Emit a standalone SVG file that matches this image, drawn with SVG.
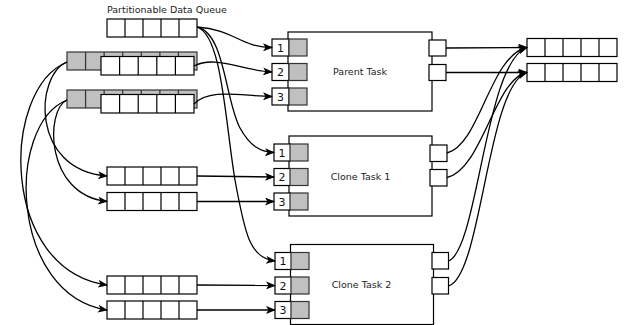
<svg xmlns="http://www.w3.org/2000/svg" xmlns:xlink="http://www.w3.org/1999/xlink" width="632" height="325" viewBox="0 0 632 325">
<style>
.s{fill:#fff;stroke:#000;stroke-width:1.2}
.g{fill:#c0c0c0;stroke:#333;stroke-width:1.2}
.d{fill:none;stroke:#000;stroke-width:1.2}
.dg{fill:none;stroke:#333;stroke-width:1.2}
.c{fill:none;stroke:#000;stroke-width:1.3}
.t{font-family:"DejaVu Sans",sans-serif;font-size:9.5px;fill:#222}
.n{font-family:"DejaVu Sans",sans-serif;font-size:11px;fill:#111;text-anchor:middle}
</style>
<defs>
<marker id="ah" markerWidth="10" markerHeight="8" refX="9" refY="4" orient="auto" markerUnits="userSpaceOnUse">
<path d="M0,0 L10,4 L0,8 L2.5,4 z" fill="#000"/>
</marker>
<g id="q">
<rect class="s" width="90" height="18"/>
<path class="d" d="M18,0v18M36,0v18M54,0v18M72,0v18"/>
</g>
<g id="qw">
<rect class="s" width="93" height="18.5"/>
<path class="d" d="M18.6,0v18.5M37.2,0v18.5M55.8,0v18.5M74.4,0v18.5"/>
</g>
<g id="qg">
<rect class="g" width="130" height="18"/>
<path class="dg" d="M18.57,0v18M37.14,0v18M55.71,0v18M74.29,0v18M92.86,0v18M111.43,0v18"/>
</g>
</defs>

<text class="t" x="107" y="12.5">Partitionable Data Queue</text>

<g id="queue-main"><use xlink:href="#q" x="107" y="19"/></g>
<g id="queue-p2"><use xlink:href="#qg" x="67" y="52"/><use xlink:href="#qw" x="101" y="56.5"/></g>
<g id="queue-p3"><use xlink:href="#qg" x="67" y="90"/><use xlink:href="#qw" x="101" y="94.5"/></g>
<g id="queue-c1a"><use xlink:href="#q" x="107" y="167"/></g>
<g id="queue-c1b"><use xlink:href="#q" x="107" y="192.5"/></g>
<g id="queue-c2a"><use xlink:href="#q" x="107" y="276"/></g>
<g id="queue-c2b"><use xlink:href="#q" x="107" y="301"/></g>
<g id="queue-out1"><use xlink:href="#q" x="527" y="38.5"/></g>
<g id="queue-out2"><use xlink:href="#q" x="527" y="63.5"/></g>

<g id="parent-task">
<rect class="s" x="288" y="32" width="144" height="79"/>
<text class="t" x="360" y="74.5" text-anchor="middle">Parent Task</text>
<rect class="s" x="272" y="39" width="17" height="17"/><rect class="g" x="289" y="39" width="18" height="17"/><text class="n" x="280.5" y="51.5">1</text>
<rect class="s" x="272" y="63.5" width="17" height="17"/><rect class="g" x="289" y="63.5" width="18" height="17"/><text class="n" x="280.5" y="76">2</text>
<rect class="s" x="272" y="88" width="17" height="17"/><rect class="g" x="289" y="88" width="18" height="17"/><text class="n" x="280.5" y="100.5">3</text>
<rect class="s" x="429" y="40" width="17" height="16"/>
<rect class="s" x="429" y="64.5" width="17" height="16"/>
</g>

<g id="clone-task-1">
<rect class="s" x="289" y="136" width="143" height="80"/>
<text class="t" x="360.5" y="180" text-anchor="middle">Clone Task 1</text>
<rect class="s" x="274" y="144" width="16.5" height="17"/><rect class="g" x="290" y="144" width="18" height="17"/><text class="n" x="282" y="156.5">1</text>
<rect class="s" x="274" y="168.5" width="16.5" height="17"/><rect class="g" x="290" y="168.5" width="18" height="17"/><text class="n" x="282" y="181">2</text>
<rect class="s" x="274" y="193" width="16.5" height="17"/><rect class="g" x="290" y="193" width="18" height="17"/><text class="n" x="282" y="205.5">3</text>
<rect class="s" x="430" y="145" width="17" height="16.5"/>
<rect class="s" x="430" y="169.5" width="17" height="16.5"/>
</g>

<g id="clone-task-2">
<rect class="s" x="290.5" y="244.5" width="143" height="80"/>
<text class="t" x="361.5" y="288" text-anchor="middle">Clone Task 2</text>
<rect class="s" x="275" y="252.5" width="16.5" height="17"/><rect class="g" x="291" y="252.5" width="18" height="17"/><text class="n" x="283" y="265">1</text>
<rect class="s" x="275" y="277" width="16.5" height="17"/><rect class="g" x="291" y="277" width="18" height="17"/><text class="n" x="283" y="289.5">2</text>
<rect class="s" x="275" y="301.5" width="16.5" height="17"/><rect class="g" x="291" y="301.5" width="18" height="17"/><text class="n" x="283" y="314">3</text>
<rect class="s" x="432" y="252.5" width="16.5" height="16.5"/>
<rect class="s" x="432" y="277.5" width="16.5" height="16.5"/>
</g>

<g id="connectors" marker-end="url(#ah)">
<path class="c" d="M197,27 C235,30 240,47 272,47.5"/>
<path class="c" d="M197,27 C225,33 225,100 240,128 C250,146 260,152 274,152.5"/>
<path class="c" d="M197,27 C222,35 225,120 235,180 C245,235 250,258 275,261"/>
<path class="c" d="M194,66 C215,55 240,70 272,72"/>
<path class="c" d="M194,104 C210,88 240,96 272,96.5"/>
<path class="c" d="M197,176 L274,177"/>
<path class="c" d="M197,201.5 L274,201.5"/>
<path class="c" d="M197,285 L275,285.5"/>
<path class="c" d="M197,310 L275,310"/>
<path class="c" d="M67,62 C35,75 30,170 107,176"/>
<path class="c" d="M67,62 C0,90 0,270 107,285"/>
<path class="c" d="M67,100 C45,110 45,195 107,201.5"/>
<path class="c" d="M67,100 C5,125 10,295 107,310"/>
<path class="c" d="M446,48 L527,47.5"/>
<path class="c" d="M446,72.5 L527,72.5"/>
<path class="c" d="M447,153 C480,145 490,55 527,47.5"/>
<path class="c" d="M447,177.5 C482,170 495,78 527,72.5"/>
<path class="c" d="M448.5,261 C478,250 485,62 527,47.5"/>
<path class="c" d="M448.5,286 C482,276 487,85 527,72.5"/>
</g>
</svg>
